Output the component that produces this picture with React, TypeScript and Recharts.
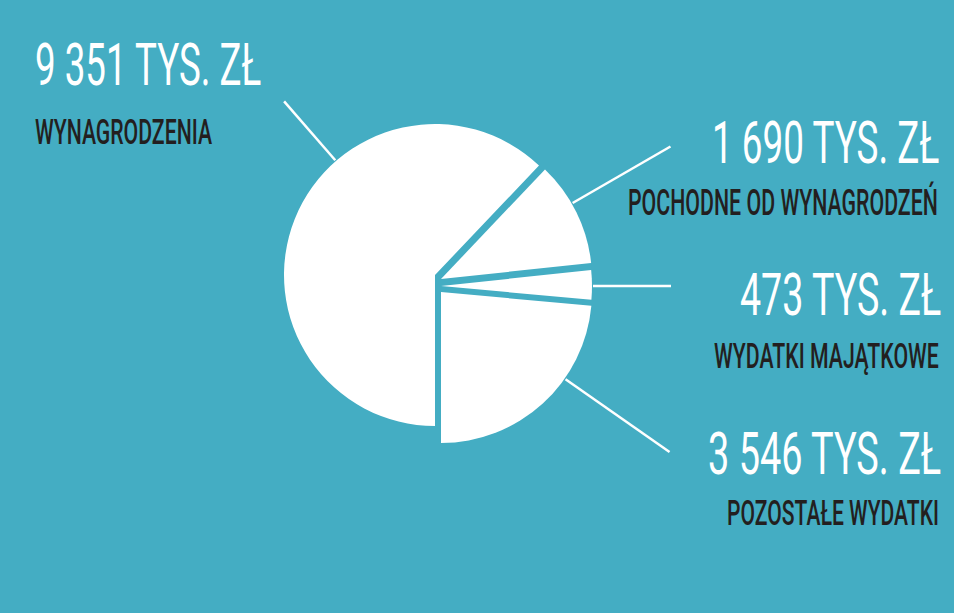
import React from 'react';
import { PieChart, Pie, Cell, Sector } from 'recharts';

// ---- data ----
const categories = ['WYNAGRODZENIA', 'POCHODNE OD WYNAGRODZEŃ', 'WYDATKI MAJĄTKOWE', 'POZOSTAŁE WYDATKI'];
const values = [9351, 1690, 473, 3546];
const valueLabels = ['9 351 TYS. ZŁ', '1 690 TYS. ZŁ', '473 TYS. ZŁ', '3 546 TYS. ZŁ'];

// ---- style / layout ----
const BG = '#44adc3';
const WHITE = '#ffffff';
const DARK = '#231f20';
const FONT = 'Roboto, "DejaVu Sans", sans-serif';
const W = 954;
const H = 613;
const CX = 438;
const CY = 283;
const R = 151;
const BIG_SIZE = 59;
const SMALL_SIZE = 36;
const BIG_WEIGHT = 400;
const SMALL_WEIGHT = 500;
// per-slice displacement of the slice (exploded look)
const SLICE_OFFSET: [number, number][] = [[-3, -8], [3, -4], [3, 3], [3, 9]];
// leader lines: angle (deg) and outer radius
const LEADER: { angle: number; len: number }[] = [
  { angle: 131, len: 230 },
  { angle: 30, len: 265 },
  { angle: 0, len: 230 },
  { angle: -35, len: 279 },
];
// text boxes: left x, baseline, width for big number and small caption
const TEXT_POS = [
  { bx: 35, by: 85, bw: 227, sx: 35, sy: 144, sw: 177 },
  { bx: 712, by: 163, bw: 228, sx: 628, sy: 215, sw: 310 },
  { bx: 740, by: 315, bw: 202, sx: 714, sy: 368, sw: 225 },
  { bx: 708, by: 474, bw: 234, sx: 727, sy: 525, sw: 212 },
];

const data = categories.map((name, i) => ({ name, value: values[i], label: valueLabels[i] }));
const RAD = Math.PI / 180;

let measureCtx: CanvasRenderingContext2D | null = null;
function measure(text: string, size: number, weight: number) {
  if (typeof document === 'undefined') return text.length * size * 0.55;
  if (!measureCtx) measureCtx = document.createElement('canvas').getContext('2d');
  if (!measureCtx) return text.length * size * 0.55;
  measureCtx.font = `${weight} ${size}px ${FONT}`;
  return measureCtx.measureText(text).width;
}

function FitText({ x, y, w, text, size, weight, fill }: any) {
  const nat = measure(text, size, weight);
  const sx = nat > 0 ? w / nat : 1;
  return (
    <text
      transform={`translate(${x},${y}) scale(${sx},1)`}
      x={0}
      y={0}
      fill={fill}
      fontFamily={FONT}
      fontSize={size}
      fontWeight={weight}
      textAnchor="start"
    >
      {text}
    </text>
  );
}

function SliceShape(props: any) {
  const nm = props.name ?? props.payload?.name;
  const i = categories.indexOf(nm);
  const off = SLICE_OFFSET[i] || [0, 0];
  return <Sector {...props} cx={props.cx + off[0]} cy={props.cy + off[1]} fill={WHITE} stroke="none" />;
}

function renderLabel(props: any) {
  const { cx, cy, outerRadius, index } = props;
  const off = SLICE_OFFSET[index] || [0, 0];
  const lc = LEADER[index];
  const tp = TEXT_POS[index];
  const ox = cx + off[0];
  const oy = cy + off[1];
  const cos = Math.cos(lc.angle * RAD);
  const sin = Math.sin(lc.angle * RAD);
  const x1 = ox + (outerRadius + 1) * cos;
  const y1 = oy - (outerRadius + 1) * sin;
  const x2 = ox + lc.len * cos;
  const y2 = oy - lc.len * sin;
  return (
    <g key={`lbl-${index}`}>
      <line x1={x1} y1={y1} x2={x2} y2={y2} stroke={WHITE} strokeWidth={2.5} />
      <FitText x={tp.bx} y={tp.by} w={tp.bw} text={data[index].label} size={BIG_SIZE} weight={BIG_WEIGHT} fill={WHITE} />
      <FitText x={tp.sx} y={tp.sy} w={tp.sw} text={data[index].name} size={SMALL_SIZE} weight={SMALL_WEIGHT} fill={DARK} />
    </g>
  );
}

export default function App() {
  return (
    <div style={{ position: 'absolute', left: 0, top: 0, width: W, height: H, background: BG }}>
      <style>{'body{margin:0}'}</style>
      <PieChart width={W} height={H} margin={{ top: 0, right: 0, bottom: 0, left: 0 }}>
        <Pie
          data={data}
          dataKey="value"
          nameKey="name"
          cx={CX}
          cy={CY}
          innerRadius={0}
          outerRadius={R}
          startAngle={270}
          endAngle={-90}
          stroke="none"
          isAnimationActive={false}
          shape={SliceShape}
          label={renderLabel}
          labelLine={false}
        >
          {data.map((d) => (
            <Cell key={d.name} fill={WHITE} />
          ))}
        </Pie>
      </PieChart>
    </div>
  );
}
